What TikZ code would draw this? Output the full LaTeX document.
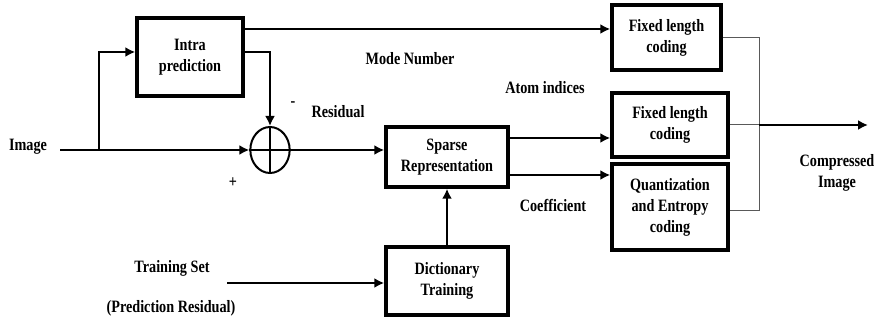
\documentclass[tikz,border=0pt]{standalone}
\usepackage{fontspec}
\setmainfont[FakeStretch=0.82]{Liberation Serif}
\usetikzlibrary{arrows.meta,shapes.geometric}

\tikzset{
    blk/.style={draw, line width=2.6pt, align=center, inner sep=0pt},
    lbl/.style={align=center, inner sep=0pt},
    wire/.style={gray!70!black, line width=0.75pt}
}

\begin{document}
\begin{tikzpicture}[x=0.75pt,y=-0.75pt,line width=1.5pt,>={Latex[length=7.5pt,width=7.5pt]},
        font=\fontsize{13}{15.75}\selectfont\bfseries]
        \useasboundingbox (0,0) rectangle (885,320);
        % blocks
        \node[blk,minimum width=79.5pt,minimum height=58.5pt] (intra) at (190,57) {Intra\\prediction};
        \node[blk,minimum width=91.5pt,minimum height=45pt] (sparse) at (447,157) {Sparse\\Representation};
        \node[blk,minimum width=91.5pt,minimum height=51pt] (dict) at (447,281) {Dictionary\\Training};
        \node[blk,minimum width=81.75pt,minimum height=48.75pt] (flc1) at (666.5,37.5) {Fixed length\\coding};
        \node[blk,minimum width=87pt,minimum height=48pt] (flc2) at (670,125) {Fixed length\\coding};
        \node[blk,minimum width=87pt,minimum height=64.5pt] (qec) at (670,207) {Quantization\\and Entropy\\coding};
        \node[draw,ellipse,minimum width=29.5pt,minimum height=34.5pt,inner sep=0pt] (sum) at (270,150) {};
        \draw (sum.north) -- (sum.south) (sum.west) -- (sum.east);
        % labels
        \node[lbl] (img) at (28,147) {Image};
        \node[lbl] (mode) at (410,59) {Mode Number};
        \node[lbl] (atom) at (545,88) {Atom indices};
        \node[lbl] (res) at (338,112) {Residual};
        \node[lbl] (minus) at (293,104) {-};
        \node[lbl] (plus) at (233,183) {+};
        \node[lbl] (coef) at (553,205) {Coefficient};
        \node[lbl] (tset) at (172,268) {Training Set};
        \node[lbl] (pres) at (171,308) {(Prediction Residual)};
        \node[lbl] (comp) at (837,173) {Compressed\\Image};
        % connectors
        \coordinate (in) at (60,150);
        \coordinate (br) at (99,150);
        \coordinate (ts) at (227,283);
        \coordinate (join) at (759,125);
        \coordinate (out) at (868,125);
        \draw[->] (in) -- (sum.west);
        \draw[->] (br) |- ([yshift=3.75pt]intra.west);
        \draw[->] ([yshift=3.75pt]intra.east) -| (sum.north);
        \draw[->] ([yshift=21pt]intra.east) coordinate (m) -- (m -| flc1.west);
        \draw[->] (sum.east) -- (sum.east -| sparse.west);
        \draw[->] ([yshift=14.25pt]sparse.east) coordinate (a) -- (a -| flc2.west);
        \draw[->] ([yshift=-13.5pt]sparse.east) coordinate (c) -- (c -| qec.west);
        \draw[->] (dict.north) -- (sparse.south);
        \draw[->] (ts) -- (ts -| dict.west);
        \draw[wire] (flc1.east) -| (join) |- ([yshift=-3pt]qec.east);
        \draw[wire] (flc2.east) -- (join);
        \draw[->] (join) -- (out);
\end{tikzpicture}
\end{document}
